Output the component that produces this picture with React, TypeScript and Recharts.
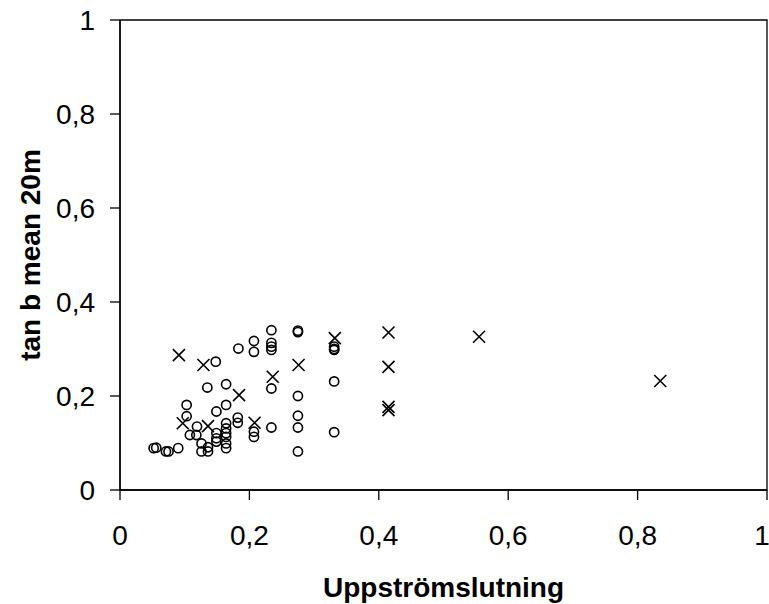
import React from "react";
import {
  ScatterChart,
  Scatter,
  XAxis,
  YAxis,
  ReferenceArea,
} from "recharts";

// open circles
const circleX = [
  0.052, 0.056, 0.071, 0.075, 0.09, 0.103, 0.103, 0.108, 0.118, 0.119, 0.126,
  0.126, 0.136, 0.136, 0.135, 0.148, 0.149, 0.149, 0.149, 0.149, 0.164, 0.164,
  0.164, 0.164, 0.164, 0.164, 0.164, 0.164, 0.183, 0.182, 0.182, 0.207, 0.207,
  0.207, 0.207, 0.234, 0.234, 0.234, 0.234, 0.234, 0.234, 0.275, 0.275, 0.275,
  0.275, 0.275, 0.275, 0.331, 0.331, 0.331, 0.331, 0.331,
];
const circleY = [
  0.089, 0.09, 0.082, 0.082, 0.089, 0.181, 0.157, 0.117, 0.117, 0.135, 0.099,
  0.082, 0.082, 0.091, 0.218, 0.273, 0.167, 0.121, 0.11, 0.103, 0.225, 0.181,
  0.142, 0.131, 0.121, 0.113, 0.099, 0.089, 0.301, 0.154, 0.143, 0.317, 0.294,
  0.124, 0.113, 0.34, 0.313, 0.305, 0.298, 0.216, 0.133, 0.339, 0.336, 0.2,
  0.158, 0.133, 0.082, 0.305, 0.3, 0.298, 0.231, 0.123,
];

// crosses
const crossX = [
  0.091, 0.129, 0.184, 0.236, 0.097, 0.136, 0.208, 0.276, 0.332, 0.415, 0.415,
  0.415, 0.415, 0.555, 0.835,
];
const crossY = [
  0.287, 0.266, 0.202, 0.241, 0.142, 0.136, 0.143, 0.266, 0.323, 0.335, 0.262,
  0.177, 0.17, 0.326, 0.232,
];

const ticks = [0, 0.2, 0.4, 0.6, 0.8, 1];

const circles = circleX.map((x, i) => ({ x, y: circleY[i] }));
const crosses = crossX.map((x, i) => ({ x, y: crossY[i] }));

const fmt = (v: number) => String(v).replace(".", ",");

const Ring = (p: any) => (
  <circle cx={p.cx} cy={p.cy} r={4.6} fill="none" stroke="#000" strokeWidth={1.6} />
);

const XMark = (p: any) => {
  const s = 6;
  return (
    <path
      d={`M${p.cx - s},${p.cy - s}L${p.cx + s},${p.cy + s}M${p.cx - s},${p.cy + s}L${p.cx + s},${p.cy - s}`}
      stroke="#000"
      strokeWidth={1.6}
      fill="none"
    />
  );
};

const font = "'Liberation Sans', Arial, sans-serif";
const tickStyle = { fill: "#000", fontSize: 28, fontFamily: font };
const titleStyle = { fill: "#000", fontSize: "28px", fontWeight: "bold", fontFamily: font };

export default function App() {
  return (
    <div style={{ position: "absolute", left: 0, top: 0, background: "#fff" }}>
      <ScatterChart
        width={769}
        height={604}
        margin={{ top: 20, right: 2, left: 0, bottom: 0 }}
        style={{ fontFamily: font }}
      >
        <ReferenceArea
          x1={0}
          x2={1}
          y1={0}
          y2={1}
          fill="none"
          stroke="#000"
          strokeWidth={1.3}
          ifOverflow="visible"
        />
        <XAxis
          type="number"
          dataKey="x"
          domain={[0, 1]}
          ticks={ticks}
          tickFormatter={fmt}
          height={114}
          tickSize={10}
          tickMargin={25}
          stroke="#000"
          strokeWidth={1.3}
          fontSize={28}
          tick={tickStyle}
          label={{
            value: "Uppströmslutning",
            position: "insideBottom",
            offset: 7,
            fontSize: 28,
            style: titleStyle,
          }}
        />
        <YAxis
          type="number"
          dataKey="y"
          domain={[0, 1]}
          ticks={ticks}
          tickFormatter={fmt}
          width={120}
          tickSize={10}
          tickMargin={15}
          stroke="#000"
          strokeWidth={1.3}
          fontSize={28}
          tick={tickStyle}
          label={{
            value: "tan b mean 20m",
            angle: -90,
            position: "insideLeft",
            offset: 30,
            fontSize: 28,
            style: { ...titleStyle, textAnchor: "middle" },
          }}
        />
        <Scatter data={circles} shape={Ring} isAnimationActive={false} />
        <Scatter data={crosses} shape={XMark} isAnimationActive={false} />
      </ScatterChart>
    </div>
  );
}
